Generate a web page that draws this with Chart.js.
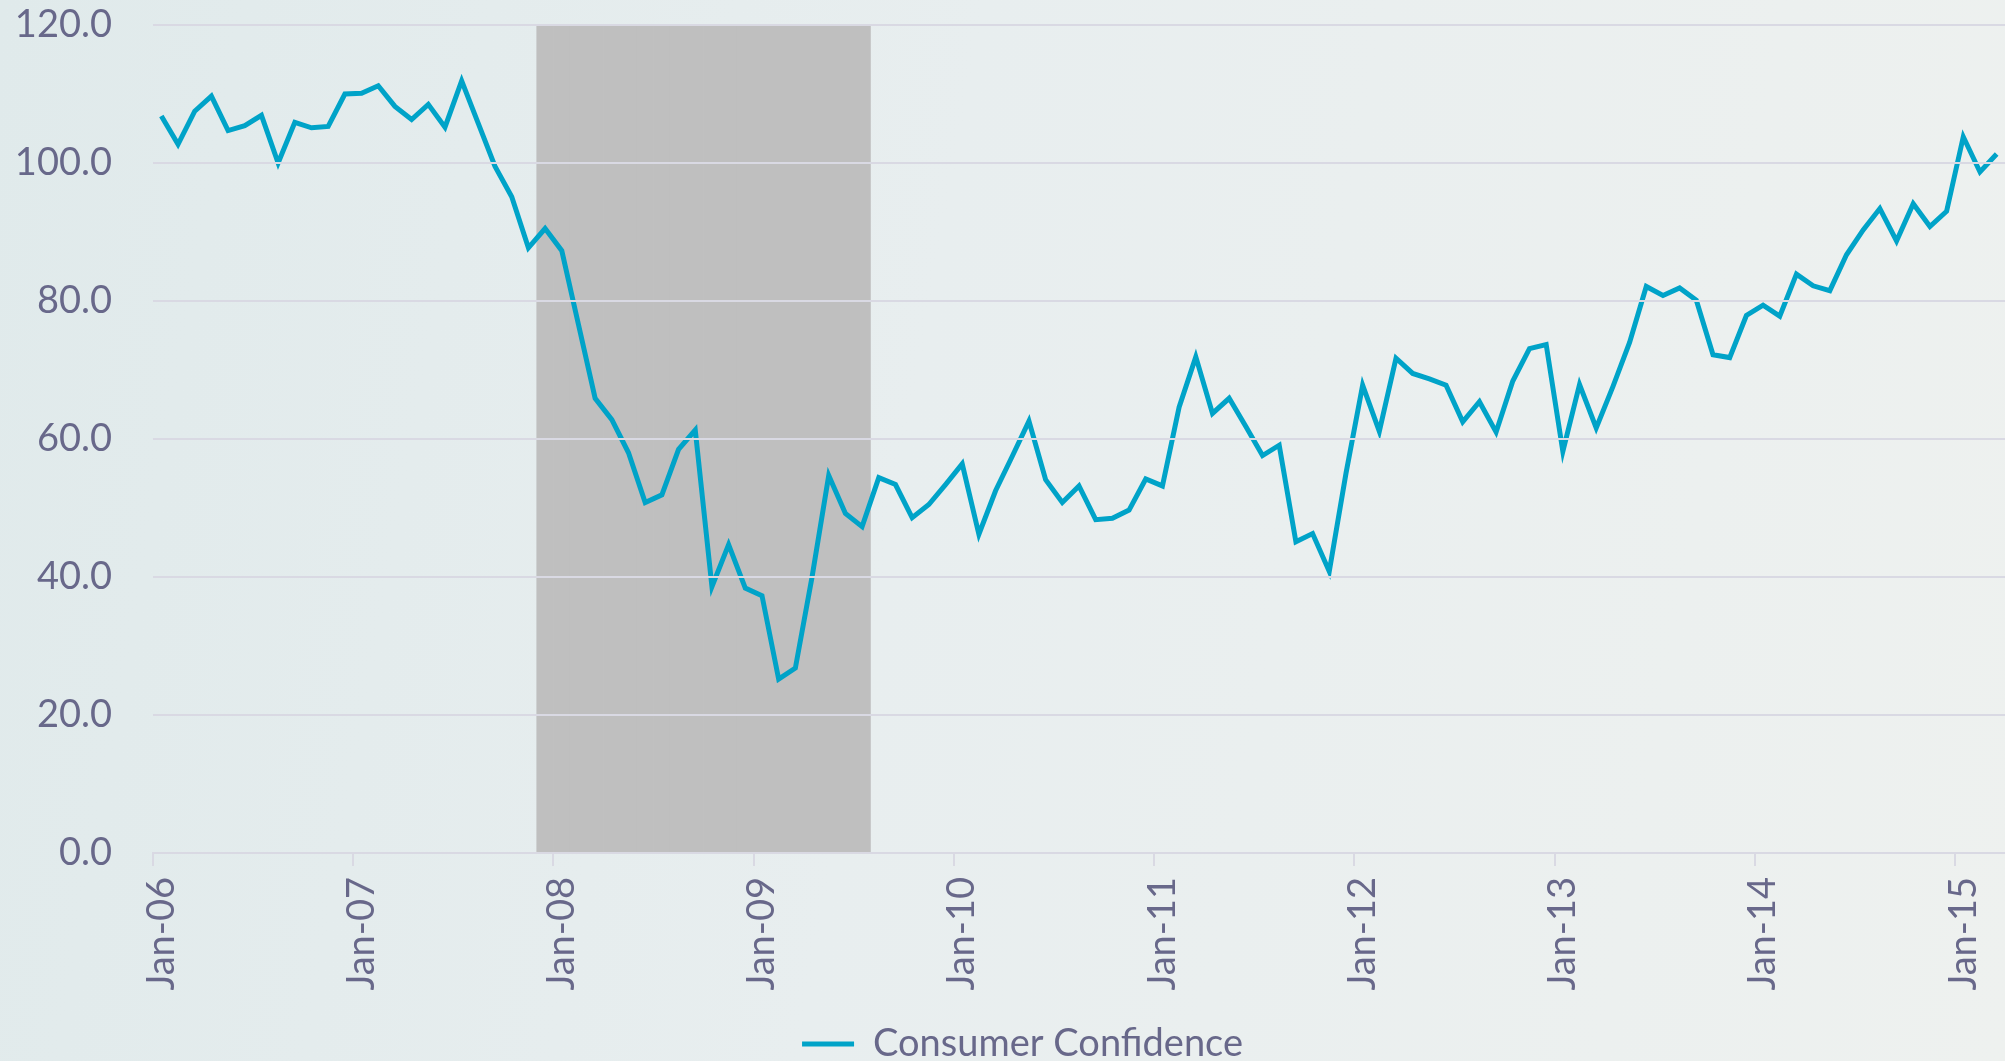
<!DOCTYPE html>
<html>
<head>
<meta charset="utf-8">
<script src="https://cdn.jsdelivr.net/npm/chart.js@4.4.1/dist/chart.umd.min.js"></script>
<style>
  html, body { margin: 0; padding: 0; }
  body {
    width: 2005px; height: 1061px; overflow: hidden;
    background: linear-gradient(100deg, #e0eaeb 0%, #e8eeef 45%, #eef1ef 100%);
  }
  #wrap { position: relative; width: 2005px; height: 1061px; }
</style>
</head>
<body>
<div id="wrap"><canvas id="confidenceChart"></canvas></div>
<script>
    const years = ['06', '07', '08', '09', '10', '11', '12', '13', '14', '15'];
    const monthNames = ['Jan', 'Feb', 'Mar', 'Apr', 'May', 'Jun', 'Jul', 'Aug', 'Sep', 'Oct', 'Nov', 'Dec'];
    const lastMonth = 'Mar-15';
    // first and last month of the shaded recession band
    const recessionMonths = ['Dec-07', 'Jul-09'];
    const yTicks = [0, 20, 40, 60, 80, 100, 120];

    // Consumer Confidence, monthly Jan-06 .. Mar-15
    const confidence = [
        106.8, 102.7, 107.5, 109.7, 104.7, 105.4, 106.9, 100.0, 105.9, 105.1, 105.3, 110.0,
        110.1, 111.2, 108.2, 106.3, 108.5, 105.2, 111.9, 105.7, 99.5, 95.1, 87.7, 90.5,
        87.3, 76.6, 65.9, 62.8, 58.0, 50.8, 51.9, 58.5, 61.3, 38.6, 44.7, 38.4,
        37.3, 25.2, 26.8, 40.0, 54.7, 49.2, 47.3, 54.4, 53.4, 48.6, 50.5, 53.4,
        56.4, 46.2, 52.5, 57.5, 62.6, 54.1, 50.8, 53.2, 48.3, 48.5, 49.7, 54.2,
        53.2, 64.6, 71.9, 63.7, 65.9, 61.8, 57.6, 59.1, 45.1, 46.3, 40.8, 55.0,
        67.8, 61.1, 71.7, 69.5, 68.7, 67.8, 62.5, 65.4, 61.0, 68.4, 73.1, 73.7,
        58.2, 67.9, 61.6, 67.6, 74.0, 82.1, 80.8, 81.9, 80.1, 72.2, 71.8, 77.9,
        79.4, 77.8, 83.9, 82.2, 81.5, 86.7, 90.3, 93.4, 88.7, 94.1, 90.8, 93.0,
        103.8, 98.7, 101.3
    ];

    const textColor = '#68688a';
    const gridColor = '#d9d9e3';
    const lineColor = '#00a3c8';
    const font = { family: 'Lato', size: 38 };

    // month labels like "Jan-06"
    const labels = [];
    for (const yr of years) {
        for (const m of monthNames) {
            const lbl = `${m}-${yr}`;
            if (labels.length && labels[labels.length - 1] === lastMonth) break;
            labels.push(lbl);
        }
    }

    const recStart = labels.indexOf(recessionMonths[0]);
    const recEnd = labels.indexOf(recessionMonths[1]);
    const recession = labels.map((l, i) => (i >= recStart && i <= recEnd) ? yTicks[yTicks.length - 1] : null);

    // legend in the original sits a bit right of the canvas centre
    const legendNudge = {
        id: 'legendNudge',
        afterLayout(chart) {
            chart.legend.left += 20;
            chart.legend.right += 20;
        }
    };

    const ctx = document.getElementById('confidenceChart').getContext('2d');
    const confidenceChart = new Chart(ctx, {
        type: 'line',
        data: {
            labels: labels,
            datasets: [{
                label: 'Consumer Confidence',
                data: confidence,
                borderColor: lineColor,
                backgroundColor: lineColor,
                borderWidth: 5,
                pointRadius: 0,
                tension: 0,
                fill: false,
                order: 0
            }, {
                type: 'bar',
                label: 'Recession',
                data: recession,
                backgroundColor: '#bfbfbf',
                borderWidth: 0,
                barPercentage: 1,
                categoryPercentage: 1,
                order: 1
            }]
        },
        plugins: [legendNudge],
        options: {
            responsive: true,
            maintainAspectRatio: false,
            animation: false,
            layout: { padding: { top: 25, right: 0, bottom: -12, left: 0 } },
            plugins: {
                tooltip: { enabled: false },
                legend: {
                    position: 'bottom',
                    onClick: null,
                    labels: {
                        color: textColor,
                        font: font,
                        usePointStyle: true,
                        pointStyle: 'line',
                        pointStyleWidth: 52,
                        padding: 6,
                        filter: item => item.datasetIndex === 0
                    }
                }
            },
            scales: {
                x: {
                    offset: true,
                    grid: {
                        offset: true,
                        drawOnChartArea: false,
                        tickLength: 13,
                        lineWidth: 2,
                        color: c => (c.index !== undefined && c.index % 12 === 0) ? gridColor : 'transparent'
                    },
                    border: { display: true, color: gridColor, width: 2 },
                    ticks: {
                        autoSkip: false,
                        maxRotation: 90,
                        minRotation: 90,
                        padding: 11,
                        color: textColor,
                        font: font,
                        callback: function (value, index) {
                            const lbl = this.getLabelForValue(value);
                            return lbl.startsWith('Jan') ? lbl : '';
                        }
                    },
                    afterFit: s => { s.height = 166; s.paddingLeft = 0; s.paddingRight = 0; }
                },
                y: {
                    min: yTicks[0],
                    max: yTicks[yTicks.length - 1],
                    grid: { color: gridColor, lineWidth: 2, drawTicks: false, z: 1 },
                    border: { display: false },
                    ticks: {
                        stepSize: 20,
                        padding: 41,
                        color: textColor,
                        font: font,
                        callback: v => v.toFixed(1)
                    },
                    afterFit: s => { s.width = 153; s.paddingTop = 0; s.paddingBottom = 0; }
                }
            }
        }
    });
</script>
</body>
</html>
